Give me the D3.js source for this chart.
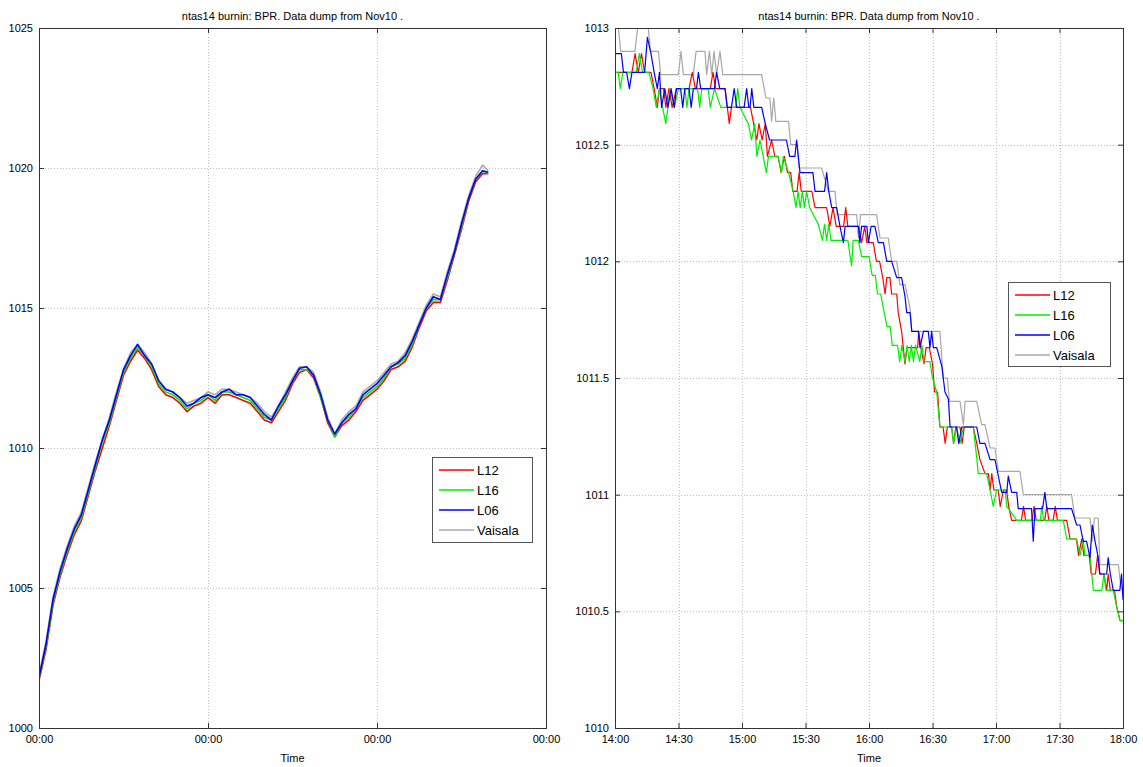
<!DOCTYPE html>
<html>
<head>
<meta charset="utf-8">
<script src="https://cdn.jsdelivr.net/npm/d3@7"></script>
<style>
  body { margin: 0; background: #fff; }
  svg { font-family: "Liberation Sans", Arial, Helvetica, sans-serif; }
  .grid line { stroke: #bdbdbd; stroke-width: 1; stroke-dasharray: 1,2; }
  .axis text { font-size: 11px; fill: #000; }
  .axis line { stroke: #333; }
  .axis path { display: none; }
  .frame { fill: none; stroke: #333; stroke-width: 1; }
  .title, .xlabel { font-size: 11px; fill: #000; text-anchor: middle; }
  .legend rect { fill: #fff; stroke: #555; }
  .legend text { font-size: 13px; fill: #000; }
  .series { fill: none; stroke-linejoin: round; }
</style>
</head>
<body>
<svg width="1143" height="767"></svg>
<script>
var seriesNames = ['L12', 'L16', 'L06', 'Vaisala'];
var seriesColors = { L12: '#ff0000', L16: '#00ee00', L06: '#0000ff', Vaisala: '#a8a8a8' };
var chartTitle = 'ntas14 burnin: BPR. Data dump from Nov10 .';

// left panel: hours since start, hourly readings
var leftHours = [0,1,2,3,4,5,6,7,8,9,10,11,12,13,14,15,16,17,18,19,20,21,22,23,24,25,26,27,28,29,30,31,
  32,33,34,35,36,37,38,39,40,41,42,43,44,45,46,47,48,49,50,51,52,53,54,55,56,57,58,59,60,61,62,63,63.8];
var leftL12 = [1001.7,1002.8,1004.4,1005.4,1006.2,1006.9,1007.4,1008.3,1009.2,1010.0,1010.8,1011.7,1012.6,1013.1,1013.5,1013.2,
  1012.8,1012.2,1011.9,1011.8,1011.6,1011.3,1011.5,1011.6,1011.8,1011.6,1011.9,1011.9,1011.8,1011.7,1011.6,1011.3,
  1011.0,1010.9,1011.3,1011.7,1012.3,1012.7,1012.8,1012.5,1011.8,1010.9,1010.4,1010.8,1011.0,1011.3,1011.7,1011.9,
  1012.1,1012.4,1012.8,1012.9,1013.1,1013.6,1014.3,1014.9,1015.2,1015.2,1016.0,1016.9,1017.8,1018.8,1019.5,1019.8,1019.8];
var leftL16 = [1001.8,1002.9,1004.5,1005.5,1006.3,1007.0,1007.5,1008.4,1009.3,1010.2,1010.9,1011.8,1012.7,1013.2,1013.6,1013.3,
  1012.9,1012.3,1012.0,1011.9,1011.7,1011.4,1011.6,1011.7,1011.9,1011.7,1012.0,1012.0,1011.9,1011.8,1011.7,1011.4,
  1011.1,1011.0,1011.4,1011.8,1012.4,1012.8,1012.8,1012.6,1011.8,1011.0,1010.4,1010.9,1011.1,1011.4,1011.8,1012.0,
  1012.2,1012.5,1012.9,1013.0,1013.2,1013.7,1014.4,1015.0,1015.3,1015.3,1016.1,1017.0,1017.9,1018.9,1019.6,1019.9,1019.8];
var leftL06 = [1001.8,1003.0,1004.6,1005.6,1006.4,1007.1,1007.6,1008.5,1009.4,1010.3,1011.0,1011.9,1012.8,1013.3,1013.7,1013.3,
  1013.0,1012.4,1012.1,1012.0,1011.8,1011.5,1011.6,1011.8,1011.9,1011.8,1012.0,1012.1,1011.9,1011.9,1011.8,1011.5,
  1011.2,1011.0,1011.5,1011.9,1012.4,1012.85,1012.9,1012.6,1011.9,1011.0,1010.5,1010.9,1011.2,1011.4,1011.9,1012.1,
  1012.3,1012.6,1012.9,1013.05,1013.3,1013.8,1014.4,1015.0,1015.4,1015.3,1016.2,1017.0,1018.0,1018.9,1019.6,1019.9,1019.85];
var leftVaisala = [1001.9,1003.1,1004.7,1005.7,1006.5,1007.2,1007.7,1008.6,1009.5,1010.3,1011.1,1012.0,1012.8,1013.4,1013.7,1013.4,
  1013.0,1012.4,1012.1,1012.0,1011.8,1011.6,1011.7,1011.8,1012.0,1011.9,1012.1,1012.1,1012.0,1011.9,1011.8,1011.6,
  1011.3,1011.1,1011.5,1012.0,1012.5,1012.9,1012.9,1012.7,1012.0,1011.1,1010.5,1011.0,1011.3,1011.5,1012.0,1012.2,
  1012.4,1012.7,1013.0,1013.1,1013.4,1013.9,1014.5,1015.1,1015.5,1015.4,1016.3,1017.1,1018.1,1019.0,1019.7,1020.1,1019.9];

// right panel: [minutes after 14:00, hPa]
var rightL12 = [[0,1012.81],[8,1012.81],[9.5,1012.89],[11,1012.81],[12.5,1012.89],[14,1012.81],[17,1012.81],[18.5,1012.74],
  [20,1012.66],[21,1012.74],[23,1012.74],[24,1012.66],[25.5,1012.74],[27,1012.66],[29,1012.74],[35,1012.74],[36.5,1012.81],
  [38,1012.74],[45,1012.74],[46.3,1012.81],[47.5,1012.74],[52,1012.74],[54,1012.59],[55,1012.66],[64,1012.66],[65.5,1012.59],
  [67,1012.52],[68,1012.59],[69.5,1012.52],[71,1012.59],[72,1012.45],[74,1012.52],[75.5,1012.45],[77,1012.45],[78.5,1012.38],
  [80,1012.45],[81.5,1012.38],[83,1012.38],[84,1012.30],[86,1012.30],[87,1012.38],[88,1012.30],[93,1012.30],[94.5,1012.23],
  [100,1012.23],[101.5,1012.15],[103,1012.23],[104.5,1012.15],[108,1012.15],[109,1012.23],[110,1012.15],[115,1012.15],
  [116.5,1012.08],[118,1012.15],[119,1012.08],[122,1012.08],[123.5,1012.0],[125,1012.0],[126.5,1011.93],[127.6,1011.86],
  [128.4,1011.93],[129.9,1011.93],[130.7,1011.86],[133.1,1011.86],[133.8,1011.78],[135.4,1011.70],[136.2,1011.63],
  [137,1011.56],[138,1011.63],[143,1011.63],[143.5,1011.70],[144.5,1011.63],[146,1011.56],[147,1011.63],[148.5,1011.63],
  [150,1011.56],[151,1011.44],[152.4,1011.44],[153.5,1011.29],[155,1011.29],[156,1011.22],[157,1011.29],[159,1011.29],
  [160,1011.22],[161,1011.29],[163,1011.29],[164,1011.22],[165,1011.29],[169.3,1011.29],[170.9,1011.22],[172.4,1011.15],
  [174.8,1011.09],[176.4,1011.09],[177.2,1011.02],[178,1011.09],[179,1011.02],[181,1011.02],[182,1010.95],[183.5,1011.02],
  [185,1011.02],[186,1010.95],[187.4,1010.89],[192,1010.89],[193,1010.95],[194,1010.89],[197,1010.89],[198,1010.95],
  [199,1010.89],[203,1010.89],[204,1010.95],[205,1010.89],[207,1010.89],[208,1010.95],[209,1010.89],[213.4,1010.89],
  [215,1010.81],[218,1010.81],[219,1010.74],[220.5,1010.81],[221.5,1010.74],[224,1010.74],[225,1010.66],[227,1010.66],
  [228,1010.74],[229,1010.66],[231,1010.66],[232.3,1010.59],[233,1010.66],[234,1010.59],[236,1010.59],[237,1010.52],
  [238.6,1010.46],[240,1010.46]];
var rightL16 = [[0,1012.81],[1.5,1012.81],[2.5,1012.74],[3.7,1012.81],[10,1012.81],[11.5,1012.89],[13,1012.81],[16,1012.81],
  [18,1012.74],[19.5,1012.66],[21,1012.74],[22.5,1012.66],[24,1012.59],[25,1012.66],[26,1012.74],[28,1012.66],[30,1012.74],
  [33,1012.74],[34,1012.66],[35,1012.74],[39,1012.74],[40,1012.66],[41,1012.74],[44,1012.74],[45,1012.66],[47,1012.74],
  [50,1012.66],[57,1012.66],[58,1012.74],[59,1012.66],[63,1012.59],[64.5,1012.52],[66,1012.59],[67,1012.45],[68.5,1012.52],
  [70,1012.45],[71.5,1012.38],[72.5,1012.45],[77,1012.45],[78.7,1012.38],[79.5,1012.45],[82,1012.38],[84.2,1012.30],
  [85.5,1012.23],[86.5,1012.30],[87.5,1012.23],[88.5,1012.30],[89.5,1012.23],[90.5,1012.30],[92,1012.23],[96,1012.16],
  [98,1012.09],[99,1012.16],[100,1012.09],[101,1012.16],[102,1012.09],[110,1012.09],[111.8,1011.98],[112.5,1012.09],
  [115,1012.09],[116.5,1012.02],[120,1012.02],[121.5,1011.94],[123,1011.94],[124,1011.86],[125.5,1011.86],[127,1011.79],
  [128.5,1011.72],[130,1011.72],[131,1011.64],[133.5,1011.64],[134.5,1011.57],[135.5,1011.64],[137,1011.57],[138,1011.64],
  [139,1011.57],[140,1011.64],[141,1011.57],[142,1011.64],[144,1011.57],[145,1011.64],[146,1011.57],[148.8,1011.57],
  [150,1011.50],[152,1011.44],[153.5,1011.29],[159.1,1011.29],[159.9,1011.22],[161.4,1011.29],[163,1011.22],[164.6,1011.29],
  [169.3,1011.29],[170.1,1011.22],[170.9,1011.16],[171.6,1011.09],[175.6,1011.09],[177.2,1011.02],[178.7,1010.95],
  [180.3,1011.02],[184.3,1011.02],[185.1,1010.95],[189.8,1010.89],[201,1010.89],[201.6,1010.95],[202.5,1010.89],
  [211.8,1010.89],[213.4,1010.81],[218.1,1010.81],[219.7,1010.74],[221.2,1010.81],[222,1010.74],[224.4,1010.74],
  [226,1010.59],[230,1010.59],[231,1010.66],[232,1010.59],[235.4,1010.59],[237,1010.52],[238.6,1010.46],[240,1010.46]];
var rightL06 = [[0,1012.89],[3,1012.89],[4,1012.81],[5.5,1012.81],[6.8,1012.74],[8,1012.81],[14,1012.81],[15.3,1012.96],
  [17,1012.89],[18.5,1012.81],[20,1012.74],[21,1012.81],[22,1012.66],[23.5,1012.74],[25,1012.66],[26.5,1012.74],[28,1012.66],
  [29,1012.74],[31,1012.74],[32,1012.66],[33,1012.74],[35,1012.74],[36,1012.66],[37,1012.74],[38.5,1012.74],[39.4,1012.81],
  [40.5,1012.74],[47,1012.74],[48,1012.81],[49.5,1012.74],[52,1012.74],[53,1012.66],[55,1012.66],[56.3,1012.74],
  [57.5,1012.66],[61,1012.66],[62.2,1012.74],[63.2,1012.66],[63.8,1012.66],[64.6,1012.74],[65.6,1012.66],[69.3,1012.66],
  [71,1012.59],[73,1012.52],[81,1012.52],[82.5,1012.45],[85,1012.45],[85.8,1012.52],[87.4,1012.38],[93.5,1012.38],
  [94.5,1012.30],[99,1012.30],[100,1012.38],[101,1012.30],[102.4,1012.23],[104.7,1012.23],[106.3,1012.15],[107.9,1012.08],
  [108.7,1012.15],[115,1012.15],[115.7,1012.08],[116.5,1012.15],[119,1012.15],[119.7,1012.08],[121,1012.15],[122.8,1012.15],
  [124.4,1012.08],[126.8,1012.08],[128.4,1012.0],[130.7,1012.0],[133.1,1011.93],[135.4,1011.93],[137,1011.85],
  [137.8,1011.78],[139.4,1011.78],[140.2,1011.70],[143.3,1011.70],[144.1,1011.63],[145.7,1011.70],[148,1011.70],
  [148.8,1011.63],[149.6,1011.70],[150.4,1011.63],[152,1011.63],[154.4,1011.55],[155.9,1011.44],[157.5,1011.41],
  [158.3,1011.29],[161.4,1011.29],[162.4,1011.22],[163.8,1011.29],[170.9,1011.29],[172.4,1011.22],[174.8,1011.22],
  [177.2,1011.15],[179.5,1011.15],[181.1,1011.08],[182.7,1011.01],[185.1,1011.01],[185.8,1011.08],[187.4,1011.01],
  [189.8,1011.01],[190.5,1010.94],[196.8,1010.94],[197.6,1010.80],[198.4,1010.94],[202,1010.94],[203.1,1011.01],
  [204,1010.94],[215.7,1010.94],[218.1,1010.87],[219.7,1010.87],[221.2,1010.80],[222.8,1010.80],[224.4,1010.73],
  [225.5,1010.87],[226.8,1010.80],[228.3,1010.73],[229.1,1010.66],[232.3,1010.66],[233,1010.73],[234,1010.66],
  [235.4,1010.59],[238.5,1010.59],[239.3,1010.66],[240,1010.55]];
var rightVaisala = [[0,1013.0],[1.6,1013.0],[2.7,1012.9],[9.4,1012.9],[10.7,1013.0],[15.7,1013.0],[16.8,1012.9],[20.5,1012.9],
  [21.6,1012.8],[29.9,1012.8],[31.2,1012.9],[32.3,1012.8],[37,1012.8],[38.3,1012.9],[42.5,1012.9],[43.3,1012.8],[44.6,1012.9],
  [45.7,1012.8],[46.8,1012.9],[48,1012.8],[49.6,1012.9],[50.9,1012.8],[69.3,1012.8],[71.3,1012.7],[73.2,1012.7],[74,1012.6],
  [75,1012.7],[76,1012.6],[82,1012.6],[83,1012.5],[86,1012.5],[87,1012.4],[97.6,1012.4],[100.8,1012.3],[103.9,1012.3],
  [105,1012.2],[114.2,1012.2],[115,1012.1],[116,1012.2],[123.6,1012.2],[125.2,1012.1],[129.1,1012.1],[130.7,1012.0],
  [133.1,1012.0],[134.6,1011.9],[137,1011.9],[139.4,1011.8],[140.2,1011.7],[153.5,1011.7],[155.1,1011.5],[157,1011.5],
  [158,1011.4],[163,1011.4],[164.6,1011.3],[165.4,1011.4],[170.9,1011.4],[173.2,1011.3],[174.8,1011.3],[177.2,1011.2],
  [179.5,1011.2],[181.1,1011.1],[191.3,1011.1],[192.9,1011.0],[215.7,1011.0],[217.3,1010.9],[224.4,1010.9],[225.5,1010.8],
  [226.5,1010.9],[228.3,1010.9],[229.1,1010.7],[237.8,1010.7],[239,1010.6],[240,1010.6]];

var leftStart = new Date(2011, 10, 7, 0, 0);
var rightStart = new Date(2011, 10, 10, 14, 0);
var hour = 3600 * 1000, minute = 60 * 1000;

var leftSeries = {
  L12: leftHours.map((h, i) => [new Date(+leftStart + h * hour), leftL12[i]]),
  L16: leftHours.map((h, i) => [new Date(+leftStart + h * hour), leftL16[i]]),
  L06: leftHours.map((h, i) => [new Date(+leftStart + h * hour), leftL06[i]]),
  Vaisala: leftHours.map((h, i) => [new Date(+leftStart + h * hour), leftVaisala[i]])
};
var toRight = arr => arr.map(d => [new Date(+rightStart + d[0] * minute), d[1]]);
var rightSeries = {
  L12: toRight(rightL12),
  L16: toRight(rightL16),
  L06: toRight(rightL06),
  Vaisala: toRight(rightVaisala)
};

var svg = d3.select('svg');

drawPanel({
  id: 'left',
  left: 39, right: 546, top: 28, bottom: 728,
  xDomain: [leftStart, new Date(+leftStart + 72 * hour)],
  xTicks: d3.timeDay.every(1),
  yDomain: [1000, 1025],
  yTickCount: 5,
  series: leftSeries,
  lineWidth: 1.6,
  legend: { x: 432, y: 457, w: 100, h: 85 }
});

drawPanel({
  id: 'right',
  left: 615, right: 1123, top: 28, bottom: 728,
  xDomain: [rightStart, new Date(+rightStart + 240 * minute)],
  xTicks: d3.timeMinute.every(30),
  yDomain: [1010, 1013],
  yTickCount: 6,
  series: rightSeries,
  lineWidth: 1.2,
  legend: { x: 1008, y: 282, w: 102, h: 84 }
});

function drawPanel(p) {
  var x = d3.scaleTime().domain(p.xDomain).range([p.left, p.right]);
  var y = d3.scaleLinear().domain(p.yDomain).range([p.bottom, p.top]);
  var g = svg.append('g').attr('class', 'panel-' + p.id);
  var xTickVals = x.ticks(p.xTicks);
  var yTickVals = y.ticks(p.yTickCount);

  g.append('clipPath')
    .attr('id', 'clip-' + p.id)
    .append('rect')
      .attr('x', p.left).attr('y', p.top)
      .attr('width', p.right - p.left).attr('height', p.bottom - p.top);

  // dotted grid
  var grid = g.append('g').attr('class', 'grid');
  grid.selectAll('line.gx')
    .data(xTickVals)
    .enter()
    .append('line')
      .attr('class', 'gx')
      .attr('x1', d => Math.round(x(d)) + 0.5).attr('x2', d => Math.round(x(d)) + 0.5)
      .attr('y1', p.top).attr('y2', p.bottom);
  grid.selectAll('line.gy')
    .data(yTickVals)
    .enter()
    .append('line')
      .attr('class', 'gy')
      .attr('x1', p.left).attr('x2', p.right)
      .attr('y1', d => Math.round(y(d)) + 0.5).attr('y2', d => Math.round(y(d)) + 0.5);

  // data lines
  var line = d3.line().x(d => x(d[0])).y(d => y(d[1]));
  var drawOrder = ['Vaisala', 'L12', 'L16', 'L06'];
  g.append('g')
    .attr('clip-path', 'url(#clip-' + p.id + ')')
    .selectAll('path')
    .data(drawOrder)
    .enter()
    .append('path')
      .attr('class', 'series')
      .attr('d', name => line(p.series[name]))
      .style('stroke', name => seriesColors[name])
      .style('stroke-width', p.lineWidth);

  // axes, ticks pointing inward like matlab
  var fmt = d3.timeFormat('%H:%M');
  g.append('g')
    .attr('class', 'axis')
    .attr('transform', 'translate(0,' + p.bottom + ')')
    .call(d3.axisBottom(x).tickValues(xTickVals).tickFormat(fmt).tickSizeInner(-5).tickSizeOuter(0).tickPadding(7));
  g.append('g')
    .attr('class', 'axis')
    .attr('transform', 'translate(0,' + p.top + ')')
    .call(d3.axisTop(x).tickValues(xTickVals).tickFormat('').tickSizeInner(-5).tickSizeOuter(0));
  g.append('g')
    .attr('class', 'axis')
    .attr('transform', 'translate(' + p.left + ',0)')
    .call(d3.axisLeft(y).tickValues(yTickVals).tickFormat(d => d).tickSizeInner(-5).tickSizeOuter(0).tickPadding(6));
  g.append('g')
    .attr('class', 'axis')
    .attr('transform', 'translate(' + p.right + ',0)')
    .call(d3.axisRight(y).tickValues(yTickVals).tickFormat('').tickSizeInner(-5).tickSizeOuter(0));

  g.append('rect')
    .attr('class', 'frame')
    .attr('x', p.left + 0.5).attr('y', p.top + 0.5)
    .attr('width', p.right - p.left).attr('height', p.bottom - p.top);

  g.append('text')
    .attr('class', 'title')
    .attr('x', (p.left + p.right) / 2)
    .attr('y', 20)
    .text(chartTitle);

  g.append('text')
    .attr('class', 'xlabel')
    .attr('x', (p.left + p.right) / 2)
    .attr('y', 762)
    .text('Time');

  // legend
  var lg = g.append('g')
    .attr('class', 'legend')
    .attr('transform', 'translate(' + p.legend.x + ',' + p.legend.y + ')');
  lg.append('rect')
    .attr('x', 0.5).attr('y', 0.5)
    .attr('width', p.legend.w).attr('height', p.legend.h);
  var rows = lg.selectAll('g.row')
    .data(seriesNames)
    .enter()
    .append('g')
      .attr('class', 'row')
      .attr('transform', (d, i) => 'translate(0,' + (13 + i * 20) + ')');
  rows.append('line')
    .attr('x1', 7).attr('x2', 42)
    .attr('y1', 0).attr('y2', 0)
    .style('stroke', d => seriesColors[d])
    .style('stroke-width', 1.4);
  rows.append('text')
    .attr('x', 45)
    .attr('dy', '0.36em')
    .text(d => d);
}
</script>
</body>
</html>
